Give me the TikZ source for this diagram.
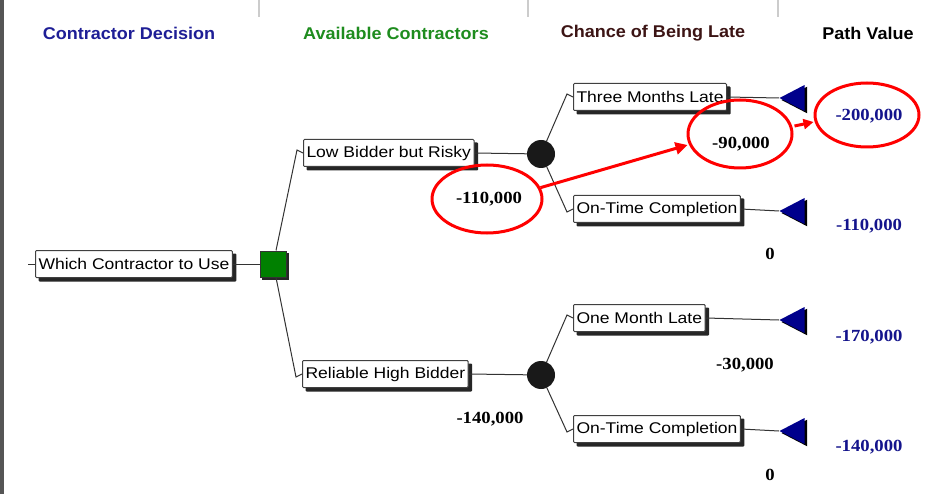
\documentclass[tikz,border=0pt]{standalone}
\usepackage{fontspec}
\setmainfont{Liberation Serif}
\setsansfont{Liberation Sans}
\newfontfamily\boxfont[FakeStretch=1.13]{Liberation Sans}
\newfontfamily\hdrfont[FakeStretch=1.06]{Liberation Sans}
\newfontfamily\valfont[FakeStretch=1.1]{Liberation Serif}
\usetikzlibrary{shapes.geometric,arrows.meta,backgrounds}
\pgfdeclarelayer{bg}
\pgfsetlayers{bg,background,main}
\definecolor{hdrblue}{RGB}{30,30,150}
\definecolor{hdrgreen}{RGB}{30,140,30}
\definecolor{hdrmaroon}{RGB}{60,20,20}
\definecolor{valblue}{RGB}{20,20,140}
\definecolor{sqgreen}{RGB}{0,128,0}
\definecolor{trinavy}{RGB}{0,0,140}
\definecolor{stripgray}{RGB}{85,85,85}
\tikzset{
  hdr/.style={font=\hdrfont\bfseries\fontsize{17}{19}\selectfont},
  optbox/.style={draw=black!75, line width=1pt, fill=white, anchor=west,
    font=\boxfont\fontsize{15.5}{17}\selectfont, inner xsep=3pt, inner ysep=0pt,
    minimum height=27pt, rounded corners=1pt},
  val/.style={font=\valfont\bfseries\fontsize{17}{19}\selectfont},
  pval/.style={val, text=valblue},
  chance/.style={circle, fill=black!90, minimum size=28pt, inner sep=0pt},
  decsq/.style={rectangle, fill=sqgreen, draw=black!80, line width=1pt, minimum size=26pt, inner sep=0pt},
  endtri/.style={isosceles triangle, shape border rotate=180, isosceles triangle stretches,
    minimum height=25pt, minimum width=26pt, inner sep=0pt, fill=trinavy, anchor=apex},
  shade/.style={fill=black!85},
  link/.style={draw=black!80, line width=1pt},
  hl/.style={draw=red, line width=3pt},
  hlarrow/.style={red, line width=3pt, -{Triangle[length=12pt,width=12pt]}},
}
\begin{document}
\begin{tikzpicture}[x=1pt,y=-1pt]
\useasboundingbox (0,0) rectangle (928,494);
\begin{pgfonlayer}{bg}
\fill[white] (0,0) rectangle (928,494);
\end{pgfonlayer}
\fill[stripgray] (0,0) rectangle (3.5,494);
% header separators
\foreach \xx in {259,528,778} \draw[black!20, line width=2pt] (\xx,0) -- (\xx,17);
% headers
\node[hdr, text=hdrblue] (h1) at (129,33) {Contractor Decision};
\node[hdr, text=hdrgreen] (h2) at (396,33) {Available Contractors};
\node[hdr, text=hdrmaroon] (h3) at (653,33) {Chance of Being Late};
\node[hdr, text=black] (h4) at (868,33) {Path Value};
% tree nodes
\node[decsq] (sq) at (273,264) {};
\node[optbox] (root) at (35,264) {Which Contractor to Use};
\node[optbox] (lb) at (303,153) {Low Bidder but Risky};
\node[optbox] (rh) at (302,374) {Reliable High Bidder};
\node[optbox] (tml) at (573,97) {Three Months Late};
\node[optbox] (otc1) at (573,209) {On-Time Completion};
\node[optbox] (oml) at (573,318) {One Month Late};
\node[optbox] (otc2) at (573,429) {On-Time Completion};
\node[chance] (c1) at (541,154) {};
\node[chance] (c2) at (541,375) {};
\node[endtri] (t1) at (779,98) {};
\node[endtri] (t2) at (779,211) {};
\node[endtri] (t3) at (779,320) {};
\node[endtri] (t4) at (779,431) {};
\coordinate (rootin) at (28,264);
% shadows and connectors behind the nodes
\begin{scope}[on background layer]
\foreach \n in {root,lb,rh,tml,otc1,oml,otc2}
  \fill[shade, rounded corners=1pt] ([shift={(3.5,3.5)}]\n.north west) rectangle ([shift={(3.5,3.5)}]\n.south east);
\fill[shade] ([shift={(2.5,2.5)}]sq.north west) rectangle ([shift={(2.5,2.5)}]sq.south east);
\foreach \n in {t1,t2,t3,t4}
  \fill[black] ([shift={(2.5,2)}]\n.apex) -- ([shift={(2.5,2)}]\n.left corner) -- ([shift={(2.5,2)}]\n.right corner) -- cycle;
\draw[link] (rootin) -- (root.west);
\draw[link] (root.east) -- (sq.west);
\draw[link] ([xshift=3pt]sq.north) -- ([xshift=-6pt,yshift=3pt]lb.west) -- (lb.west);
\draw[link] ([xshift=3pt]sq.south) -- ([xshift=-6pt,yshift=-3pt]rh.west) -- (rh.west);
\draw[link] (lb.east) -- (c1);
\draw[link] (rh.east) -- (c2);
\draw[link] (c1) -- ([xshift=-6pt,yshift=3pt]tml.west) -- (tml.west);
\draw[link] (c1) -- ([xshift=-6pt,yshift=-3pt]otc1.west) -- (otc1.west);
\draw[link] (c2) -- ([xshift=-6pt,yshift=3pt]oml.west) -- (oml.west);
\draw[link] (c2) -- ([xshift=-6pt,yshift=-3pt]otc2.west) -- (otc2.west);
\draw[link] (tml.east) -- (t1.apex);
\draw[link] (otc1.east) -- (t2.apex);
\draw[link] (oml.east) -- (t3.apex);
\draw[link] (otc2.east) -- (t4.apex);
\end{scope}
% values
\node[val] (v1) at (489,199) {-110,000};
\node[val] (v2) at (490,419) {-140,000};
\node[val] (v3) at (741,144) {-90,000};
\node[val] (v4) at (770,254) {0};
\node[val] (v5) at (745,365) {-30,000};
\node[val] (v6) at (770,475) {0};
\node[pval] (p1) at (869,116) {-200,000};
\node[pval] (p2) at (869,226) {-110,000};
\node[pval] (p3) at (869,337) {-170,000};
\node[pval] (p4) at (869,447) {-140,000};
% highlights
\node[hl, ellipse, minimum width=110pt, minimum height=68pt] (e1) at (487,199) {};
\node[hl, ellipse, minimum width=104pt, minimum height=68pt] (e2) at (740,134) {};
\node[hl, ellipse, minimum width=104pt, minimum height=64pt] (e3) at (867,115) {};
\draw[hlarrow] (e1.12) -- ([xshift=1pt,yshift=-11pt]e2.west);
\draw[hlarrow, -{Triangle[length=10pt,width=10pt]}] ([xshift=1pt,yshift=8pt]e2.east) -- ([xshift=0pt,yshift=-7pt]e3.west);
\end{tikzpicture}
\end{document}
